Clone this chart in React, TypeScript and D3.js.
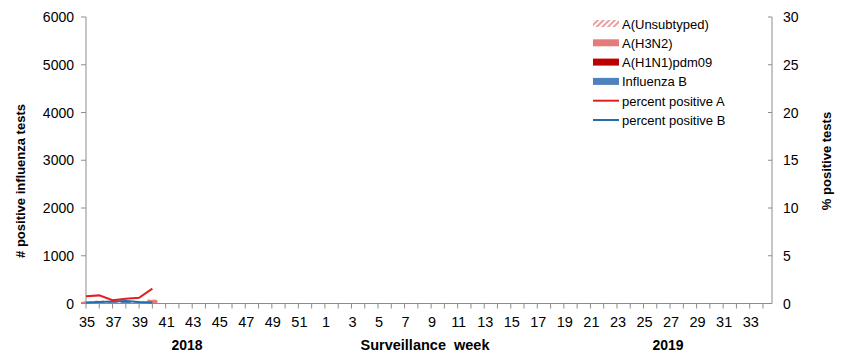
import { useEffect, useRef } from 'react';
import * as d3 from 'd3';

// weeks 35..52 of 2018, then 1..34 of 2019
const weeks: number[] = [
  35, 36, 37, 38, 39, 40, 41, 42, 43, 44, 45, 46, 47, 48, 49, 50, 51, 52,
  1, 2, 3, 4, 5, 6, 7, 8, 9, 10, 11, 12, 13, 14, 15, 16, 17, 18, 19, 20,
  21, 22, 23, 24, 25, 26, 27, 28, 29, 30, 31, 32, 33, 34
];

// only the first six weeks have data
const unsubtyped = [15, 10, 8, 5, 5, 12];
const h3n2 = [25, 40, 15, 10, 12, 65];
const h1n1 = [2, 2, 2, 1, 2, 3];
const fluB = [8, 10, 25, 30, 22, 5];
const pctA = [0.75, 0.85, 0.35, 0.5, 0.6, 1.55];
const pctB = [0.1, 0.15, 0.2, 0.25, 0.15, 0.1];

const leftTicks = [0, 1000, 2000, 3000, 4000, 5000, 6000];
const rightTicks = [0, 5, 10, 15, 20, 25, 30];

const series = [
  { key: 'fluB', label: 'Influenza B', color: '#4f81bd', values: fluB },
  { key: 'h1n1', label: 'A(H1N1)pdm09', color: '#c00000', values: h1n1 },
  { key: 'h3n2', label: 'A(H3N2)', color: '#e67c7a', values: h3n2 },
  { key: 'uns', label: 'A(Unsubtyped)', color: 'url(#hatch)', values: unsubtyped }
];

const App = () => {
  const svgRef = useRef<SVGSVGElement>(null);

  useEffect(() => {
    if (!svgRef.current) return;
    const svg = d3.select(svgRef.current);
    svg.selectAll('*').remove();

    const font = 'Arial, "Liberation Sans", sans-serif';
    const axisColor = '#8c8c8c';

    const x = d3.scaleLinear().domain([0, 51.68]).range([86, 772]);
    const y = d3.scaleLinear().domain([0, 6000]).range([303.5, 17]);
    const y2 = d3.scaleLinear().domain([0, 30]).range([303.5, 17]);

    // hatch pattern for unsubtyped
    const defs = svg.append('defs');
    const pat = defs.append('pattern')
      .attr('id', 'hatch')
      .attr('patternUnits', 'userSpaceOnUse')
      .attr('width', 4)
      .attr('height', 4)
      .attr('patternTransform', 'rotate(45)');
    pat.append('rect').attr('width', 4).attr('height', 4).attr('fill', '#fff');
    pat.append('rect').attr('width', 2).attr('height', 4).attr('fill', '#e8a0a0');

    // stacked bars
    const barW = 10;
    weeks.forEach((_, i) => {
      let acc = 0;
      series.forEach(s => {
        const v = s.values[i];
        if (v === undefined || v <= 0) return;
        svg.append('rect')
          .attr('x', x(i) - barW / 2)
          .attr('y', y(acc + v))
          .attr('width', barW)
          .attr('height', y(acc) - y(acc + v))
          .attr('fill', s.color);
        acc += v;
      });
    });

    // axes lines
    svg.append('line')
      .attr('x1', x(0)).attr('x2', x(0))
      .attr('y1', y(6000)).attr('y2', y(0))
      .attr('stroke', axisColor);
    svg.append('line')
      .attr('x1', x.range()[1]).attr('x2', x.range()[1])
      .attr('y1', y2(30)).attr('y2', y2(0))
      .attr('stroke', axisColor);
    svg.append('line')
      .attr('x1', x(0)).attr('x2', x.range()[1])
      .attr('y1', y(0)).attr('y2', y(0))
      .attr('stroke', axisColor);

    // left ticks
    leftTicks.forEach(t => {
      svg.append('line')
        .attr('x1', x(0) - 5).attr('x2', x(0))
        .attr('y1', y(t)).attr('y2', y(t))
        .attr('stroke', axisColor);
      svg.append('text')
        .attr('x', 74).attr('y', y(t) + 5)
        .attr('text-anchor', 'end')
        .attr('font-family', font).attr('font-size', 14)
        .attr('fill', '#000')
        .text(t);
    });

    // right ticks
    rightTicks.forEach(t => {
      svg.append('line')
        .attr('x1', x.range()[1] - 4).attr('x2', x.range()[1])
        .attr('y1', y2(t)).attr('y2', y2(t))
        .attr('stroke', axisColor);
      svg.append('text')
        .attr('x', 783).attr('y', y2(t) + 5)
        .attr('font-family', font).attr('font-size', 14)
        .attr('fill', '#000')
        .text(t);
    });

    // x ticks and labels
    weeks.forEach((w, i) => {
      svg.append('line')
        .attr('x1', x(i)).attr('x2', x(i))
        .attr('y1', y(0)).attr('y2', y(0) + 5)
        .attr('stroke', axisColor);
      if (i % 2 === 0) {
        svg.append('text')
          .attr('x', x(i) + 1).attr('y', 327)
          .attr('text-anchor', 'middle')
          .attr('font-family', font).attr('font-size', 14.5)
          .attr('fill', '#000')
          .text(w);
      }
    });

    // lines
    const line = d3.line<number>()
      .x((_, i) => x(i))
      .y(d => y2(d));
    svg.append('path')
      .attr('d', line(pctB))
      .attr('fill', 'none')
      .attr('stroke', '#1f6fb0')
      .attr('stroke-width', 2);
    svg.append('path')
      .attr('d', line(pctA))
      .attr('fill', 'none')
      .attr('stroke', '#e02020')
      .attr('stroke-width', 2);

    // titles
    const bold = (txt: string, tx: number, ty: number, rot = 0, size = 13) => {
      svg.append('text')
        .attr('transform', `translate(${tx},${ty}) rotate(${rot})`)
        .attr('text-anchor', 'middle')
        .attr('font-family', font)
        .attr('font-weight', 'bold')
        .attr('font-size', size)
        .style('white-space', 'pre')
        .attr('fill', '#000')
        .text(txt);
    };
    bold('2018', 187, 350, 0, 14);
    bold('Surveillance  week', 425, 350, 0, 14.5);
    bold('2019', 668, 350, 0, 14);
    bold('# positive influenza tests', 25, 181, -90, 13);
    bold('% positive tests', 831, 161, -90, 13);

    // legend
    const legend = [
      { label: 'A(Unsubtyped)', color: 'url(#hatch)', type: 'rect' },
      { label: 'A(H3N2)', color: '#e67c7a', type: 'rect' },
      { label: 'A(H1N1)pdm09', color: '#c00000', type: 'rect' },
      { label: 'Influenza B', color: '#4f81bd', type: 'rect' },
      { label: 'percent positive A', color: '#e02020', type: 'line' },
      { label: 'percent positive B', color: '#1f6fb0', type: 'line' }
    ];
    legend.forEach((l, i) => {
      const ly = 23.5 + i * 19.3;
      if (l.type === 'rect') {
        svg.append('rect')
          .attr('x', 593).attr('y', ly - 3.5)
          .attr('width', 26).attr('height', 7)
          .attr('fill', l.color);
      } else {
        svg.append('line')
          .attr('x1', 593).attr('x2', 619)
          .attr('y1', ly).attr('y2', ly)
          .attr('stroke', l.color).attr('stroke-width', 2);
      }
      svg.append('text')
        .attr('x', 622).attr('y', ly + 5)
        .attr('font-family', font).attr('font-size', 13)
        .attr('fill', '#000')
        .text(l.label);
    });
  }, []);

  return (
    <div style={{ margin: -8 }}>
      <svg ref={svgRef} width={849} height={362} style={{ display: 'block', background: '#fff' }} />
    </div>
  );
};

export default App;
